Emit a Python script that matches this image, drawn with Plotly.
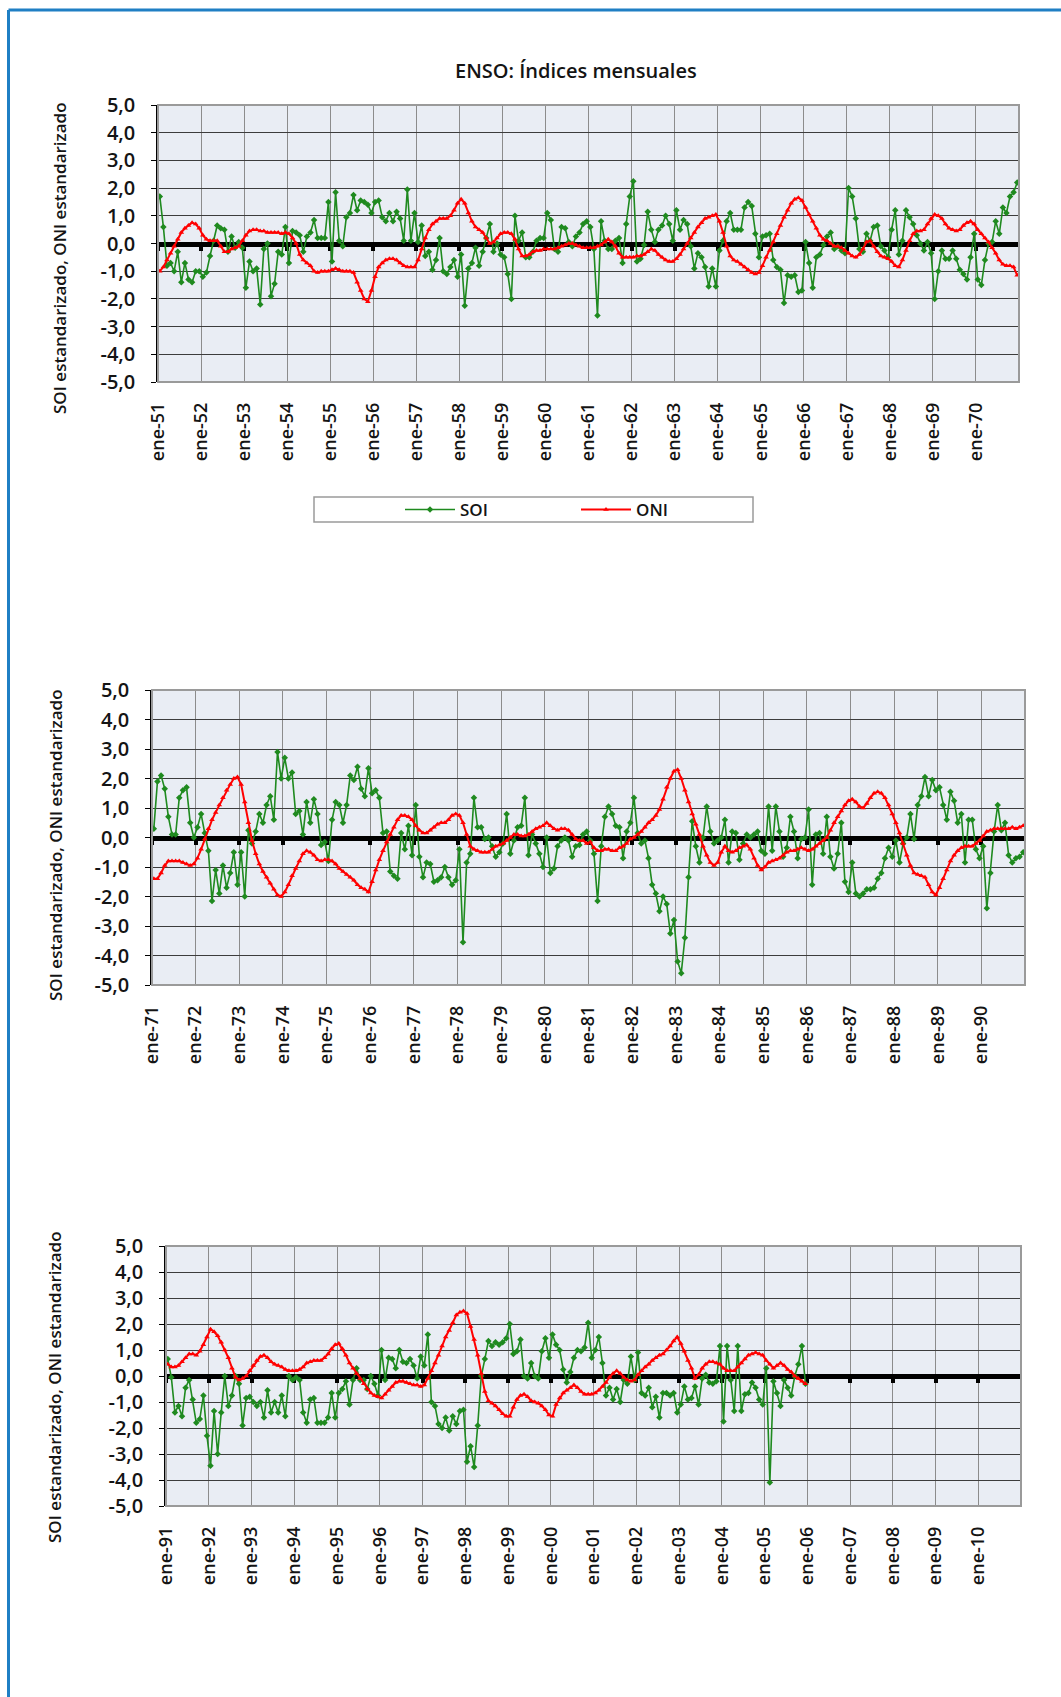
import plotly.graph_objects as go

W, H = 1061, 1697

# ---------------- data (monthly) ----------------
soi_1951_1970 = [
    1.7, 0.6, -0.8, -0.7, -1.0, -0.3, -1.4, -0.7, -1.3, -1.4, -1.0, -1.0,
    -1.2, -1.05, -0.45, 0.1, 0.65, 0.55, 0.5, -0.3, 0.25, -0.15, 0.05, -0.15,
    -1.6, -0.65, -1.0, -0.9, -2.2, -0.2, 0.0, -1.9, -1.45, -0.3, -0.4, 0.6,
    -0.7, 0.45, 0.4, 0.3, -0.3, 0.25, 0.4, 0.85, 0.2, 0.2, 0.2, 1.5,
    -0.65, 1.85, 0.1, -0.1, 0.95, 1.1, 1.75, 1.2, 1.55, 1.5, 1.4, 1.1,
    1.5, 1.55, 0.95, 0.8, 1.1, 0.8, 1.15, 0.9, 0.1, 1.95, 0.1, 1.1,
    0.05, 0.65, -0.45, -0.3, -0.95, -0.6, 0.2, -1.0, -1.1, -0.85, -0.6, -1.2,
    -0.4, -2.25, -0.9, -0.7, -0.15, -0.8, -0.3, 0.2, 0.7, -0.3, 0.0, -0.4,
    -0.5, -1.1, -2.0, 1.0, 0.1, 0.4, -0.5, -0.5, -0.3, 0.1, 0.2, 0.2,
    1.1, 0.85, -0.2, -0.3, 0.6, 0.55, 0.05, -0.1, 0.25, 0.4, 0.7, 0.8,
    0.6, -0.2, -2.6, 0.8, 0.1, -0.2, -0.2, 0.1, 0.2, -0.7, 0.7, 1.7,
    2.25, -0.65, -0.55, -0.05, 1.15, 0.5, 0.05, 0.5, 0.65, 1.0, 0.7, 0.1,
    1.2, 0.5, 0.85, 0.7, -0.1, -0.9, -0.35, -0.5, -0.85, -1.55, -0.9, -1.55,
    -0.25, 0.1, 0.8, 1.1, 0.5, 0.5, 0.5, 1.3, 1.5, 1.35, 0.35, -0.5,
    0.25, 0.3, 0.35, -0.6, -0.85, -0.95, -2.15, -1.15, -1.2, -1.15, -1.75, -1.7,
    0.05, -0.7, -1.6, -0.5, -0.4, -0.05, 0.25, 0.4, -0.2, -0.1, -0.25, -0.35,
    2.0, 1.7, 0.9, -0.2, -0.3, 0.35, 0.1, 0.6, 0.65, -0.1, -0.25, -0.5,
    0.5, 1.2, -0.4, 0.1, 1.2, 0.95, 0.7, 0.3, 0.0, -0.25, 0.05, -0.35,
    -2.0, -1.0, -0.25, -0.55, -0.55, -0.25, -0.55, -0.95, -1.1, -1.3, -0.5, 0.35,
    -1.3, -1.5, -0.6, 0.0, 0.05, 0.8, 0.35, 1.3, 1.1, 1.7, 1.85, 2.2,
]
oni_1951_1970 = [
    -1.0, -0.85, -0.6, -0.35, -0.1, 0.15, 0.4, 0.55, 0.65, 0.75, 0.7, 0.55,
    0.3, 0.15, 0.1, 0.1, 0.1, -0.1, -0.3, -0.3, -0.2, -0.15, -0.1, 0.1,
    0.3, 0.45, 0.5, 0.5, 0.45, 0.45, 0.4, 0.4, 0.4, 0.4, 0.35, 0.4,
    0.35, 0.2, 0.0, -0.4, -0.6, -0.7, -0.8, -1.0, -1.05, -1.0, -1.0, -1.0,
    -0.95, -0.9, -0.95, -1.0, -1.0, -1.0, -1.05, -1.4, -1.7, -2.0, -2.1, -1.7,
    -1.2, -0.85, -0.7, -0.6, -0.55, -0.55, -0.6, -0.7, -0.8, -0.85, -0.85, -0.85,
    -0.6, -0.2, 0.2, 0.5, 0.7, 0.8, 0.9, 0.9, 0.9, 1.0, 1.2, 1.45,
    1.6, 1.45, 1.1, 0.8, 0.6, 0.5, 0.4, 0.2, 0.0, 0.05, 0.2, 0.35,
    0.4, 0.4, 0.35, 0.15, -0.2, -0.45, -0.45, -0.4, -0.3, -0.25, -0.25, -0.2,
    -0.2, -0.2, -0.2, -0.15, -0.1, -0.05, 0.0, 0.0, -0.05, -0.1, -0.15, -0.15,
    -0.15, -0.15, -0.1, -0.05, 0.05, 0.15, 0.05, -0.1, -0.35, -0.5, -0.5, -0.5,
    -0.5, -0.45, -0.45, -0.4, -0.3, -0.2, -0.25, -0.4, -0.5, -0.6, -0.65, -0.65,
    -0.55, -0.4, -0.2, 0.0, 0.2, 0.4, 0.6, 0.75, 0.9, 0.95, 1.0, 1.05,
    0.8, 0.4, -0.1, -0.45, -0.6, -0.65, -0.75, -0.85, -0.95, -1.05, -1.1, -1.05,
    -0.8, -0.5, -0.25, 0.05, 0.35, 0.65, 0.95, 1.2, 1.45, 1.6, 1.65, 1.55,
    1.3, 1.05, 0.8, 0.55, 0.3, 0.15, 0.1, 0.0, -0.1, -0.1, -0.15, -0.25,
    -0.35, -0.45, -0.5, -0.4, -0.2, 0.05, 0.1, -0.1, -0.3, -0.45, -0.5, -0.55,
    -0.65, -0.8, -0.85, -0.6, -0.25, 0.1, 0.35, 0.45, 0.45, 0.5, 0.7, 0.9,
    1.05, 1.0, 0.9, 0.7, 0.55, 0.5, 0.45, 0.5, 0.65, 0.75, 0.8, 0.7,
    0.5, 0.35, 0.2, 0.05, -0.15, -0.35, -0.6, -0.75, -0.8, -0.8, -0.85, -1.15,
]
soi_1971_1990 = [
    0.3, 1.9, 2.1, 1.65, 0.7, 0.1, 0.1, 1.35, 1.6, 1.7, 0.5, 0.0,
    0.35, 0.8, 0.15, -0.45, -2.15, -1.1, -1.9, -0.95, -1.7, -1.2, -0.5, -1.6,
    -0.5, -2.0, 0.25, -0.2, 0.2, 0.8, 0.5, 1.1, 1.4, 0.6, 2.9, 2.0,
    2.7, 2.0, 2.2, 0.8, 0.9, 0.1, 1.2, 0.5, 1.3, 0.8, -0.25, -0.15,
    -0.8, 0.6, 1.2, 1.1, 0.5, 1.1, 2.1, 1.95, 2.4, 1.65, 1.4, 2.35,
    1.5, 1.6, 1.35, 0.15, 0.2, -1.15, -1.3, -1.4, 0.15, -0.4, 0.4, -0.6,
    1.1, -0.65, -1.35, -0.85, -0.9, -1.5, -1.45, -1.35, -1.0, -1.35, -1.6, -1.45,
    -0.4, -3.55, -0.85, -0.55, 1.35, 0.35, 0.35, -0.05, 0.0, -0.3, -0.65, -0.5,
    -0.2, 0.8, -0.55, -0.1, 0.35, 0.4, 1.35, -0.6, 0.1, -0.2, -0.55, -1.0,
    0.0, -1.2, -1.05, -0.3, -0.1, 0.0, -0.1, -0.65, -0.3, -0.25, 0.1, 0.2,
    -0.1, -0.55, -2.15, -0.3, 0.7, 1.05, 0.8, 0.4, 0.35, -0.7, 0.2, 0.5,
    1.35, 0.15, -0.2, -0.1, -0.7, -1.6, -1.9, -2.5, -2.0, -2.25, -3.25, -2.8,
    -4.2, -4.6, -3.4, -1.35, 0.55, -0.3, -0.85, 0.0, 1.05, 0.2, -0.2, -0.1,
    0.0, 0.6, -0.85, 0.2, 0.15, -0.75, -0.2, 0.1, 0.0, 0.1, 0.2, -0.45,
    -0.55, 1.05, -0.45, 1.05, 0.2, -0.65, -0.35, 0.7, 0.2, -0.7, -0.05, 0.0,
    0.95, -1.6, 0.1, 0.15, -0.55, 0.7, -0.65, -1.05, -0.55, 0.5, -1.5, -1.85,
    -0.85, -1.9, -2.0, -1.9, -1.75, -1.75, -1.7, -1.4, -1.2, -0.7, -0.35, -0.65,
    -0.1, -0.85, -0.2, 0.0, 0.8, -0.05, 1.1, 1.4, 2.05, 1.4, 1.95, 1.6,
    1.7, 1.1, 0.6, 1.55, 1.25, 0.5, 0.8, -0.85, 0.6, 0.6, -0.4, -0.7,
    -0.3, -2.4, -1.2, 0.2, 1.1, 0.25, 0.5, -0.6, -0.85, -0.7, -0.65, -0.5,
]
oni_1971_1990 = [
    -1.4, -1.4, -1.2, -0.95, -0.8, -0.8, -0.8, -0.8, -0.85, -0.9, -0.95, -0.9,
    -0.7, -0.4, -0.05, 0.3, 0.6, 0.85, 1.1, 1.35, 1.6, 1.8, 2.0, 2.05,
    1.8, 1.2, 0.5, -0.1, -0.55, -0.9, -1.15, -1.35, -1.55, -1.75, -1.95, -2.0,
    -1.85, -1.6, -1.3, -1.05, -0.8, -0.55, -0.45, -0.5, -0.6, -0.75, -0.8, -0.75,
    -0.75, -0.8, -0.9, -1.05, -1.15, -1.25, -1.35, -1.45, -1.6, -1.7, -1.75, -1.85,
    -1.5, -1.1, -0.75, -0.45, -0.15, 0.1, 0.35, 0.6, 0.75, 0.75, 0.7, 0.6,
    0.4, 0.25, 0.15, 0.15, 0.25, 0.35, 0.45, 0.5, 0.5, 0.6, 0.75, 0.8,
    0.75, 0.5, 0.1, -0.3, -0.4, -0.45, -0.5, -0.5, -0.5, -0.4, -0.3, -0.25,
    -0.2, -0.1, 0.0, 0.1, 0.1, 0.05, 0.05, 0.1, 0.2, 0.3, 0.35, 0.4,
    0.5, 0.4, 0.3, 0.25, 0.3, 0.3, 0.25, 0.1, -0.05, -0.1, -0.1, -0.2,
    -0.15, -0.35, -0.45, -0.45, -0.4, -0.4, -0.45, -0.45, -0.35, -0.3, -0.2, -0.05,
    0.0, 0.1, 0.2, 0.35, 0.5, 0.6, 0.75, 0.95, 1.3, 1.7, 2.0, 2.25,
    2.3, 2.0, 1.6, 1.2, 0.8, 0.45, 0.1, -0.3, -0.6, -0.85, -0.95, -0.85,
    -0.5, -0.3, -0.45, -0.5, -0.45, -0.35, -0.3, -0.25, -0.4, -0.7, -0.95, -1.1,
    -1.0, -0.85, -0.8, -0.75, -0.7, -0.6, -0.5, -0.45, -0.45, -0.4, -0.35, -0.4,
    -0.45, -0.4, -0.3, -0.2, -0.1, 0.0, 0.25, 0.5, 0.7, 0.9, 1.1, 1.25,
    1.3, 1.2, 1.05, 1.0, 1.15, 1.35, 1.5, 1.55, 1.5, 1.35, 1.1, 0.8,
    0.5, 0.15, -0.2, -0.6, -0.95, -1.2, -1.25, -1.3, -1.35, -1.6, -1.85, -1.95,
    -1.7, -1.4, -1.1, -0.8, -0.6, -0.45, -0.35, -0.3, -0.3, -0.3, -0.2, -0.1,
    0.05, 0.2, 0.25, 0.3, 0.3, 0.3, 0.3, 0.3, 0.35, 0.3, 0.35, 0.4,
]
soi_1991_2005 = [
    0.65, -0.05, -1.4, -1.15, -1.55, -0.45, -0.15, -0.9, -1.8, -1.65, -0.75, -2.3,
    -3.45, -1.35, -3.0, -1.4, 0.0, -1.15, -0.75, 0.0, -0.3, -1.9, -0.85, -0.8,
    -1.0, -1.15, -1.0, -1.6, -0.55, -1.4, -1.0, -1.4, -0.75, -1.55, 0.0, -0.15,
    -0.05, -0.15, -1.4, -1.8, -0.9, -0.85, -1.8, -1.8, -1.8, -1.6, -0.65, -1.6,
    -0.65, -0.5, -0.2, -1.1, -0.15, 0.3, -0.15, -0.15, -0.5, 0.0, -0.3, -0.75,
    1.0, -0.15, 0.7, 0.65, 0.3, 1.0, 0.55, 0.5, 0.65, 0.4, -0.1, 0.75,
    0.4, 1.6, -1.0, -1.15, -1.85, -2.0, -1.6, -2.1, -1.55, -1.85, -1.35, -1.3,
    -3.3, -2.7, -3.5, -1.9, 0.0, 0.65, 1.35, 1.15, 1.3, 1.2, 1.3, 1.45,
    2.0, 0.85, 0.95, 1.4, 0.0, -0.1, 0.5, 0.0, -0.1, 0.95, 1.45, 0.7,
    1.6, 1.2, 1.0, 0.25, -0.25, 0.15, 0.7, 1.0, 0.95, 1.1, 2.05, 0.7,
    1.0, 1.5, 0.5, -0.75, -0.45, -0.9, -0.5, -1.0, -0.15, -0.3, 0.75, -0.15,
    0.9, -0.65, -0.75, -0.45, -1.2, -0.8, -1.6, -0.65, -0.65, -0.75, -0.65, -1.4,
    -1.1, -0.4, -0.9, -0.85, -0.4, -1.1, -0.1, 0.05, -0.25, -0.3, -0.2, 1.15,
    -1.75, 1.15, -0.15, -1.35, 1.15, -1.35, -0.7, -0.65, -0.25, -0.45, -0.9, -1.1,
    0.3, -4.1, -0.2, -0.65, -1.15, -0.15, -0.45, -0.75, 0.0, 0.45, 1.15, -0.3,
]
oni_1991_2005 = [
    0.45, 0.35, 0.35, 0.4, 0.55, 0.7, 0.85, 0.85, 0.8, 0.95, 1.2, 1.5,
    1.8, 1.7, 1.55, 1.3, 1.0, 0.7, 0.3, -0.05, -0.15, -0.1, 0.0, 0.2,
    0.4, 0.6, 0.75, 0.8, 0.7, 0.55, 0.45, 0.4, 0.35, 0.25, 0.2, 0.2,
    0.2, 0.25, 0.35, 0.5, 0.55, 0.6, 0.6, 0.6, 0.7, 0.85, 1.05, 1.2,
    1.25, 1.05, 0.8, 0.5, 0.3, 0.1, -0.1, -0.3, -0.5, -0.65, -0.75, -0.8,
    -0.85, -0.7, -0.55, -0.4, -0.25, -0.2, -0.2, -0.25, -0.3, -0.35, -0.35, -0.4,
    -0.35, -0.1, 0.2, 0.5, 0.8, 1.15, 1.5, 1.75, 2.05, 2.35, 2.45, 2.5,
    2.4, 1.9, 1.4, 0.8, 0.1, -0.6, -0.95, -1.05, -1.15, -1.3, -1.45, -1.55,
    -1.55, -1.2, -0.9, -0.75, -0.7, -0.8, -0.95, -1.0, -1.05, -1.15, -1.3, -1.5,
    -1.55, -1.1, -0.85, -0.65, -0.55, -0.45, -0.35, -0.45, -0.6, -0.7, -0.7, -0.7,
    -0.65, -0.55, -0.4, -0.25, -0.05, 0.1, 0.2, 0.1, -0.05, -0.15, -0.2, -0.15,
    0.05, 0.2, 0.35, 0.45, 0.6, 0.7, 0.8, 0.85, 1.0, 1.15, 1.35, 1.5,
    1.25, 0.95, 0.6, 0.3, -0.1, 0.05, 0.3, 0.45, 0.55, 0.55, 0.5, 0.45,
    0.3, 0.2, 0.2, 0.2, 0.35, 0.5, 0.65, 0.8, 0.85, 0.9, 0.85, 0.8,
    0.6, 0.45, 0.3, 0.4, 0.5, 0.4, 0.25, 0.15, 0.0, -0.1, -0.2, -0.3,
]

labels_1951_1970 = ["ene-51", "ene-52", "ene-53", "ene-54", "ene-55", "ene-56", "ene-57",
                    "ene-58", "ene-59", "ene-60", "ene-61", "ene-62", "ene-63", "ene-64",
                    "ene-65", "ene-66", "ene-67", "ene-68", "ene-69", "ene-70"]
labels_1971_1990 = ["ene-71", "ene-72", "ene-73", "ene-74", "ene-75", "ene-76", "ene-77",
                    "ene-78", "ene-79", "ene-80", "ene-81", "ene-82", "ene-83", "ene-84",
                    "ene-85", "ene-86", "ene-87", "ene-88", "ene-89", "ene-90"]
labels_1991_2010 = ["ene-91", "ene-92", "ene-93", "ene-94", "ene-95", "ene-96", "ene-97",
                    "ene-98", "ene-99", "ene-00", "ene-01", "ene-02", "ene-03", "ene-04",
                    "ene-05", "ene-06", "ene-07", "ene-08", "ene-09", "ene-10"]

y_tick_values = [5, 4, 3, 2, 1, 0, -1, -2, -3, -4, -5]
y_tick_text = ["5,0", "4,0", "3,0", "2,0", "1,0", "0,0", "-1,0", "-2,0", "-3,0", "-4,0", "-5,0"]

MONTHS_PER_PANEL = 240
# ---------------------------------------------------------------------

FONT = "Open Sans"
TXT = "#141414"
GREEN = "#1f8a1f"
RED = "#ff0000"

def px(v):
    return v / W

def py(v):
    return 1 - v / H

panels = [
    dict(soi=soi_1951_1970, oni=oni_1951_1970, labels=labels_1951_1970,
         xd=(158, 1019), yd=(105, 382), tt=(60, 258)),
    dict(soi=soi_1971_1990, oni=oni_1971_1990, labels=labels_1971_1990,
         xd=(152, 1025), yd=(690, 985), tt=(56, 845)),
    dict(soi=soi_1991_2005, oni=oni_1991_2005, labels=labels_1991_2010,
         xd=(166, 1021), yd=(1246, 1506), tt=(54, 1387)),
]

fig = go.Figure()
layout = dict(
    template="none",
    width=W, height=H, margin=dict(l=0, r=0, t=0, b=0, pad=0, autoexpand=False),
    paper_bgcolor="white", plot_bgcolor="#e9edf4",
    font=dict(family=FONT, color=TXT),
    showlegend=True, shapes=[], annotations=[],
)

for i, p in enumerate(panels):
    n = i + 1
    xb = "x" if n == 1 else f"x{n}"
    yb = "y" if n == 1 else f"y{n}"
    xo = f"x{n + 3}"
    xdom = [px(p["xd"][0]), px(p["xd"][1])]
    ydom = [py(p["yd"][1]), py(p["yd"][0])]
    tick_pos = [12 * k - 0.5 for k in range(len(p["labels"]))]
    xr = [-0.5, MONTHS_PER_PANEL - 0.5]

    fig.add_trace(go.Scatter(
        x=list(range(len(p["soi"]))), y=p["soi"], name="SOI", mode="lines+markers",
        line=dict(color=GREEN, width=1.6), marker=dict(symbol="diamond", size=5, color=GREEN),
        xaxis=xb, yaxis=yb, showlegend=(n == 1), legendrank=1))
    fig.add_trace(go.Scatter(
        x=list(range(len(p["oni"]))), y=p["oni"], name="ONI", mode="lines+markers",
        line=dict(color=RED, width=2), marker=dict(symbol="triangle-up", size=5, color=RED),
        xaxis=xb, yaxis=yb, showlegend=(n == 1), legendrank=2))
    fig.add_trace(go.Scatter(x=[None], y=[None], xaxis=xo, yaxis=yb,
                             showlegend=False, hoverinfo="skip"))

    zero_pos = (ydom[0] + ydom[1]) / 2
    layout["xaxis" if n == 1 else f"xaxis{n}"] = dict(
        domain=xdom, range=xr, anchor="free", position=zero_pos, automargin=False,
        showline=True, linecolor="black", linewidth=5,
        ticks="outside", ticklen=4, tickwidth=4, tickcolor="black",
        tickmode="array", tickvals=tick_pos, showticklabels=False,
        showgrid=True, gridcolor="#8c8c8c", gridwidth=1,
        zeroline=False, layer="below traces", fixedrange=True)
    layout[f"xaxis{n + 3}"] = dict(
        domain=xdom, range=xr, overlaying=xb, anchor=yb, side="bottom", automargin=False,
        tickmode="array", tickvals=tick_pos, ticktext=p["labels"],
        tickangle=-90, ticks="", showline=False, showgrid=False, zeroline=False,
        tickfont=dict(size=18, color=TXT, family=FONT, weight=600), ticklabelstandoff=16)
    layout["yaxis" if n == 1 else f"yaxis{n}"] = dict(
        domain=ydom, range=[-5, 5], anchor=xb, automargin=False,
        tickmode="array", tickvals=y_tick_values, ticktext=y_tick_text,
        ticks="outside", ticklen=5, tickcolor="black", tickwidth=1,
        showline=True, linecolor="black", linewidth=1.5,
        showgrid=True, gridcolor="#3c3c3c", gridwidth=1, zeroline=False,
        tickfont=dict(size=20, color=TXT, family=FONT, weight=600), ticklabelstandoff=12)

    layout["shapes"].append(dict(
        type="rect", xref=f"{xb} domain", yref=f"{yb} domain", x0=0, x1=1, y0=0, y1=1,
        line=dict(color="#9a9a9a", width=2), fillcolor="rgba(0,0,0,0)"))
    layout["annotations"].append(dict(
        text="SOI estandarizado, ONI estandarizado", textangle=-90,
        x=px(p["tt"][0]), y=py(p["tt"][1]), xref="paper", yref="paper",
        xanchor="center", yanchor="middle",
        showarrow=False, font=dict(size=17, color=TXT, family=FONT, weight=600)))

# title
layout["annotations"].append(dict(
    text="ENSO: Índices mensuales", x=px(576), y=py(70), xref="paper", yref="paper",
    xanchor="center", yanchor="middle",
    showarrow=False, font=dict(size=20, color=TXT, family=FONT, weight=600)))

# legend + its box
layout["legend"] = dict(
    orientation="h", x=px(400), y=py(510), xanchor="left", yanchor="middle",
    entrywidth=111, entrywidthmode="pixels", bgcolor="rgba(0,0,0,0)", borderwidth=0,
    font=dict(size=17, color=TXT, family=FONT, weight=600), itemwidth=50, traceorder="normal")
layout["shapes"].append(dict(
    type="rect", xref="paper", yref="paper", x0=px(314), x1=px(753), y0=py(522), y1=py(497),
    line=dict(color="#9a9a9a", width=1.5), fillcolor="rgba(0,0,0,0)"))

# blue page frame (top and left edges)
layout["shapes"].append(dict(type="line", xref="paper", yref="paper",
                             x0=px(8.5), x1=1, y0=py(10), y1=py(10),
                             line=dict(color="#1f7fc4", width=3)))
layout["shapes"].append(dict(type="line", xref="paper", yref="paper",
                             x0=px(8.5), x1=px(8.5), y0=0, y1=py(10),
                             line=dict(color="#1f7fc4", width=3)))

fig.update_layout(**layout)
fig.write_html("out.html", config={"displayModeBar": False},
               post_script="document.body.style.margin='0';")
